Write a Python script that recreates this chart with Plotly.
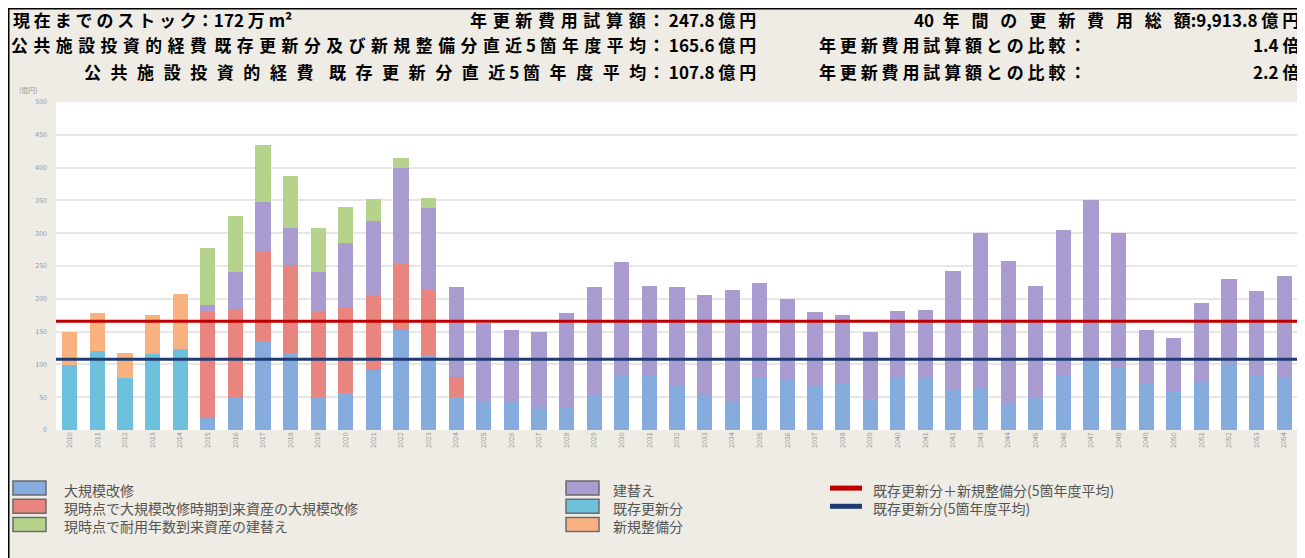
import plotly.graph_objects as go

# x categories: 5 past fiscal years + 40 projected years
years = ["2010", "2011", "2012", "2013", "2014",
         "2015", "2016", "2017", "2018", "2019", "2020", "2021", "2022", "2023", "2024",
         "2025", "2026", "2027", "2028", "2029", "2030", "2031", "2032", "2033", "2034",
         "2035", "2036", "2037", "2038", "2039", "2040", "2041", "2042", "2043", "2044",
         "2045", "2046", "2047", "2048", "2049", "2050", "2051", "2052", "2053", "2054"]

# past 5 years (億円)
kizon = [99, 121, 79, 116, 124] + [None] * 40          # 既存更新分
shinki = [50, 58, 39, 59, 83] + [None] * 40            # 新規整備分

# projected 40 years (億円)
daikibo = [None] * 5 + [18, 49, 134, 117, 49, 56, 91, 152, 114, 50,
                        43, 43, 35, 34, 52, 82, 82, 67, 53, 44,
                        81, 78, 67, 70, 48, 80, 80, 62, 65, 40,
                        50, 83, 105, 95, 72, 58, 75, 100, 83, 80]
genji_daikibo = [None] * 5 + [162, 134, 137, 135, 131, 131, 115, 102, 99, 31] + [None] * 30
tatekae = [None] * 5 + [10, 58, 77, 56, 61, 98, 112, 145, 125, 137,
                        120, 109, 115, 144, 166, 174, 137, 151, 153, 169,
                        143, 122, 113, 105, 102, 102, 103, 180, 235, 218,
                        170, 222, 245, 205, 81, 82, 118, 130, 129, 155]
genji_tatekae = [None] * 5 + [87, 85, 86, 79, 67, 55, 34, 16, 16] + [None] * 31

avg_total = 165.6   # 既存更新分＋新規整備分 (5箇年度平均)
avg_kizon = 107.8   # 既存更新分 (5箇年度平均)

FONT = "Noto Sans CJK JP"
OFF = 8                      # page body margin that the browser adds
W, H = 1305 - OFF, 558 - OFF
L, R, T, B = 48, 7, 94, 128
PW, PH = W - L - R, H - T - B


def px(x, y):
    """screen pixel position -> paper coordinates"""
    return (x - OFF - L) / PW, (H - B - (y - OFF)) / PH


def sp(s, gap=" "):
    return gap.join(s)


EN = "\u2002"
THIRD = "\u2004"
THIN = "\u2009"

fig = go.Figure()

bars = [
    ("大規模改修", daikibo, "#86ABDD"),
    ("現時点で大規模改修時期到来資産の大規模改修", genji_daikibo, "#E8857E"),
    ("建替え", tatekae, "#AA9CD0"),
    ("現時点で耐用年数到来資産の建替え", genji_tatekae, "#B6D38C"),
    ("既存更新分", kizon, "#6EC1DC"),
    ("新規整備分", shinki, "#F8B27F"),
]
for name, vals, col in bars:
    fig.add_trace(go.Bar(x=years, y=vals, name=name, marker_color=col,
                         marker_line_width=0, showlegend=False))

lines = [
    ("既存更新分＋新規整備分(5箇年度平均)", avg_total, "#C00000"),
    ("既存更新分(5箇年度平均)", avg_kizon, "#1F3B73"),
]
for name, v, col in lines:
    fig.add_trace(go.Scatter(x=[0, 1], y=[v, v], xaxis="x2", mode="lines",
                             line=dict(color=col, width=3), name=name, showlegend=False))

ann = []
shapes = []


def txt(s, x, y, anchor, font, yanchor="middle"):
    xp, yp = px(x, y)
    ann.append(dict(text=s, x=xp, y=yp, xref="paper", yref="paper", borderpad=0,
                    xanchor=anchor, yanchor=yanchor, align="left",
                    showarrow=False, font=font))


# header
hf = dict(family=FONT, size=17, color="black")
hf2 = dict(family=FONT, size=16.8, color="black")


def head(s, x, y, anchor, font=hf):
    txt("<b>" + s + "</b>", x, y, anchor, font)


head(sp("現在までのストック") + "：172 万 m²", 12, 19, "left")
head(sp("年更新費用試算額", THIRD), 647, 19, "right")
head("： 247.8 億 円", 647, 19, "left")
head("40" + EN + sp("年間の更新費用総額", EN + THIN) + ":9,913.8 億 円", 1300, 19, "right")

head(sp("公共施設投資的経費", THIRD) + "  " + sp("既存更新分及び新規整備分直近", THIRD)
     + " 5 " + sp("箇年度平均", THIRD), 647, 45, "right", hf2)
head("： 165.6 億 円", 647, 45, "left")
head(sp("年更新費用試算額との比較") + " ：", 818, 45, "left")
head("1.4 倍", 1300, 45, "right")

g3 = EN + "\u200a"
head(sp("公共施設投資的経費", g3) + "    " + sp("既存更新分直近", g3) + " 5 "
     + sp("箇年度平均", g3), 647, 71, "right")
head("： 107.8 億 円", 647, 71, "left")
head(sp("年更新費用試算額との比較") + " ：", 818, 71, "left")
head("2.2 倍", 1300, 71, "right")

txt("(億円)", 28, 90, "center", dict(family=FONT, size=7, color="#999999"))

# legend drawn below the plot: one text block per column, swatches beside each line
LF = 14
STEP = LF * 1.3
lf = dict(family=FONT, size=LF, color="#555555")
TOP = 479
leg_cols = [
    (13, 63, [bars[0], bars[1], bars[3]]),
    (566, 612, [bars[2], bars[4], bars[5]]),
]
for sx, tx, items in leg_cols:
    for k, (name, _, col) in enumerate(items):
        yc = TOP + STEP * (k + 0.5)
        x0, y0 = px(sx, yc - 7)
        x1, y1 = px(sx + 33, yc + 7)
        shapes.append(dict(type="rect", xref="paper", yref="paper", x0=x0, x1=x1,
                           y0=y0, y1=y1, fillcolor=col,
                           line=dict(color="#6B6B6B", width=1.5)))
    txt("<br>".join(it[0] for it in items), tx, TOP, "left", lf, "top")
for k, (name, _, col) in enumerate(lines):
    yc = TOP + STEP * (k + 0.5)
    x0, y0 = px(830, yc)
    x1, _ = px(862, yc)
    shapes.append(dict(type="line", xref="paper", yref="paper", x0=x0, x1=x1,
                       y0=y0, y1=y0, line=dict(color=col, width=5)))
txt("<br>".join(it[0] for it in lines), 872, TOP, "left", lf, "top")

# frame lines
fx0, fy0 = px(OFF, OFF)
fx1, fy1 = px(1305, 558)
shapes += [
    dict(type="line", xref="paper", yref="paper", x0=fx0, x1=fx1, y0=fy0, y1=fy0,
         line=dict(color="black", width=3)),
    dict(type="line", xref="paper", yref="paper", x0=fx0, x1=fx0, y0=fy0, y1=fy1,
         line=dict(color="black", width=3)),
]

fig.update_layout(
    width=W, height=H,
    margin=dict(l=L, r=R, t=T, b=B),
    barmode="stack", bargap=0.45,
    paper_bgcolor="#EEECE4", plot_bgcolor="white",
    font=dict(family=FONT),
    showlegend=False,
    xaxis=dict(type="category", tickangle=-90, showgrid=False, ticks="",
               tickfont=dict(size=7, color="#999999")),
    xaxis2=dict(overlaying="x", range=[0, 1], visible=False),
    yaxis=dict(range=[0, 500], dtick=50, gridcolor="#E6E6E6", gridwidth=1.5,
               zeroline=False, ticks="", ticklabelstandoff=8,
               tickfont=dict(size=7, color="#999999")),
    annotations=ann,
    shapes=shapes,
)

fig.write_html("out.html")
